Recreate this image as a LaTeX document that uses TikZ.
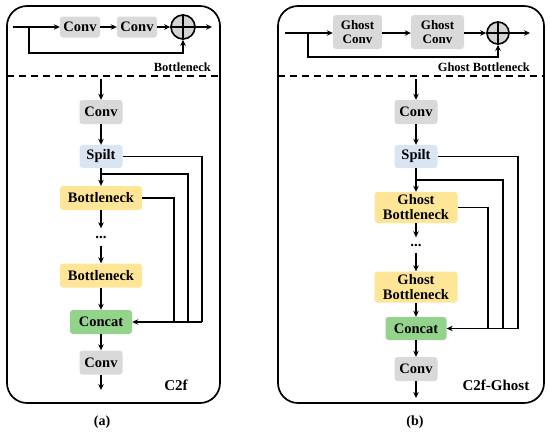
\documentclass[tikz,border=0pt]{standalone}
\usepackage{fontspec}
\setmainfont{Liberation Serif}
\usetikzlibrary{arrows.meta}
\definecolor{convgray}{HTML}{D9D9D9}
\definecolor{splitblue}{HTML}{DAE5F4}
\definecolor{neckyellow}{HTML}{FFE596}
\definecolor{catgreen}{HTML}{93D38B}
\definecolor{addgray}{HTML}{D4D4D4}
\tikzset{
  box/.style={rounded corners=3pt,inner sep=0pt,align=center,
    font=\bfseries\fontsize{14.5}{15}\selectfont},
  conv/.style={box,fill=convgray,minimum width=43pt,minimum height=24pt},
  gconv/.style={box,fill=convgray,minimum height=34pt,
    font=\bfseries\fontsize{13}{14.5}\selectfont},
  spilt/.style={box,fill=splitblue,minimum width=43pt,minimum height=23pt},
  neck/.style={box,fill=neckyellow,minimum width=82pt,minimum height=24pt},
  concat/.style={box,fill=catgreen,minimum width=62pt,minimum height=24pt},
  dotn/.style={inner sep=0pt,font=\bfseries\fontsize{15}{15}\selectfont},
  addc/.style={circle,draw,line width=1.6pt,fill=addgray,inner sep=0pt},
  arr/.style={-{Stealth[length=6pt,width=5.5pt]},line width=1.4pt},
  wire/.style={line width=1.4pt},
  panel/.style={line width=1.7pt,rounded corners=20pt},
  cut/.style={line width=1.7pt,dash pattern=on 7pt off 5pt},
  lbl/.style={font=\bfseries\fontsize{12.5}{14}\selectfont,inner sep=0pt},
  blocklbl/.style={font=\bfseries\fontsize{15}{16}\selectfont,inner sep=0pt},
  sublbl/.style={font=\bfseries\fontsize{14}{16}\selectfont,inner sep=0pt}
}
\begin{document}
\begin{tikzpicture}[x=1pt,y=-1pt]
\useasboundingbox (0,0) rectangle (550,432);

% panel (a): C2f
\draw[panel] (7,6) rectangle (220,403);
\draw[cut] (7,76) -- (220,76);

\coordinate (inA) at (13,27);
\coordinate (brA) at (29,27);
\coordinate (skA) at (29,53);
\coordinate (outA) at (212,27);
\node[conv,minimum width=40pt,minimum height=21pt] (tc1A) at (80,27) {Conv};
\node[conv,minimum width=40pt,minimum height=21pt] (tc2A) at (137,27) {Conv};
\node[addc,minimum size=24pt] (addA) at (183,27) {};
\draw[line width=1.6pt] (addA.north) -- (addA.south) (addA.west) -- (addA.east);
\draw[arr] (inA) -- (tc1A);
\draw[arr] (tc1A) -- (tc2A);
\draw[arr] (tc2A) -- (addA);
\draw[arr] (addA) -- (outA);
\draw[arr] (brA) -- (skA) -| (addA.south);
\node[lbl,anchor=east] at (211,67) {Bottleneck};

\coordinate (inLA) at (101,79);
\coordinate (outLA) at (101,390);
\node[conv] (cv1A) at (101,112) {Conv};
\node[spilt] (spA) at (101,156.5) {Spilt};
\node[neck] (bn1A) at (101,198) {Bottleneck};
\node[dotn,minimum height=17pt] (dtA) at (101,237) {...};
\node[neck] (bn2A) at (101,275.5) {Bottleneck};
\node[concat] (ccA) at (101,322) {Concat};
\node[conv] (cv2A) at (101,362.5) {Conv};
\draw[arr] (inLA) -- (cv1A);
\draw[arr] (cv1A) -- (spA);
\draw[arr] (spA) -- (bn1A);
\draw[arr] (bn1A) -- (dtA);
\draw[arr] (dtA) -- (bn2A);
\draw[arr] (bn2A) -- (ccA);
\draw[arr] (ccA) -- (cv2A);
\draw[arr] (cv2A) -- (outLA);

\coordinate (jA) at (101,174);
\coordinate (sk1A) at (202,322);
\coordinate (sk2A) at (188,322);
\coordinate (sk3A) at (174,322);
\draw[wire] (spA.east) -| (sk1A);
\draw[wire] (jA) -| (sk2A);
\draw[wire] (bn1A.east) -| (sk3A);
\draw[arr] (sk1A) -- (ccA.east);
\node[blocklbl] at (176,385) {C2f};
\node[sublbl] at (102,422) {(a)};

% panel (b): C2f-Ghost
\draw[panel] (278,6) rectangle (544,403);
\draw[cut] (278,76) -- (544,76);

\coordinate (inB) at (285,33);
\coordinate (brB) at (308,33);
\coordinate (skB) at (308,57);
\coordinate (outB) at (530,33);
\node[gconv,minimum width=49pt] (tc1B) at (357.5,32) {Ghost\\Conv};
\node[gconv,minimum width=53pt] (tc2B) at (437.5,32) {Ghost\\Conv};
\node[addc,minimum size=22pt] (addB) at (498,33) {};
\draw[line width=1.6pt] (addB.north) -- (addB.south) (addB.west) -- (addB.east);
\draw[arr] (inB) -- (tc1B.west |- inB);
\draw[arr] (tc1B.east |- inB) -- (tc2B.west |- inB);
\draw[arr] (tc2B.east |- inB) -- (addB);
\draw[arr] (addB) -- (outB);
\draw[arr] (brB) -- (skB) -| (addB.south);
\node[lbl,anchor=east] at (530,67) {Ghost Bottleneck};

\coordinate (inLB) at (416,79);
\coordinate (outLB) at (416,398);
\node[conv] (cv1B) at (416,112) {Conv};
\node[spilt] (spB) at (416,156.5) {Spilt};
\node[neck,minimum width=83pt,minimum height=31pt] (gb1B) at (416,207.5) {Ghost\\Bottleneck};
\node[dotn,minimum height=15pt] (dtB) at (416,245) {...};
\node[neck,minimum width=83pt,minimum height=31pt] (gb2B) at (416,287) {Ghost\\Bottleneck};
\node[concat,minimum width=61pt,minimum height=23pt] (ccB) at (416,328.5) {Concat};
\node[conv] (cv2B) at (416,369) {Conv};
\draw[arr] (inLB) -- (cv1B);
\draw[arr] (cv1B) -- (spB);
\draw[arr] (spB) -- (gb1B);
\draw[arr] (gb1B) -- (dtB);
\draw[arr] (dtB) -- (gb2B);
\draw[arr] (gb2B) -- (ccB);
\draw[arr] (ccB) -- (cv2B);
\draw[arr] (cv2B) -- (outLB);

\coordinate (jB) at (416,180);
\coordinate (sk1B) at (518,328.5);
\coordinate (sk2B) at (503,328.5);
\coordinate (sk3B) at (488,328.5);
\draw[wire] (spB.east) -| (sk1B);
\draw[wire] (jB) -| (sk2B);
\draw[wire] (gb1B.east) -| (sk3B);
\draw[arr] (sk1B) -- (ccB.east);
\node[blocklbl] at (496,385) {C2f-Ghost};
\node[sublbl] at (415,422) {(b)};
\end{tikzpicture}
\end{document}
